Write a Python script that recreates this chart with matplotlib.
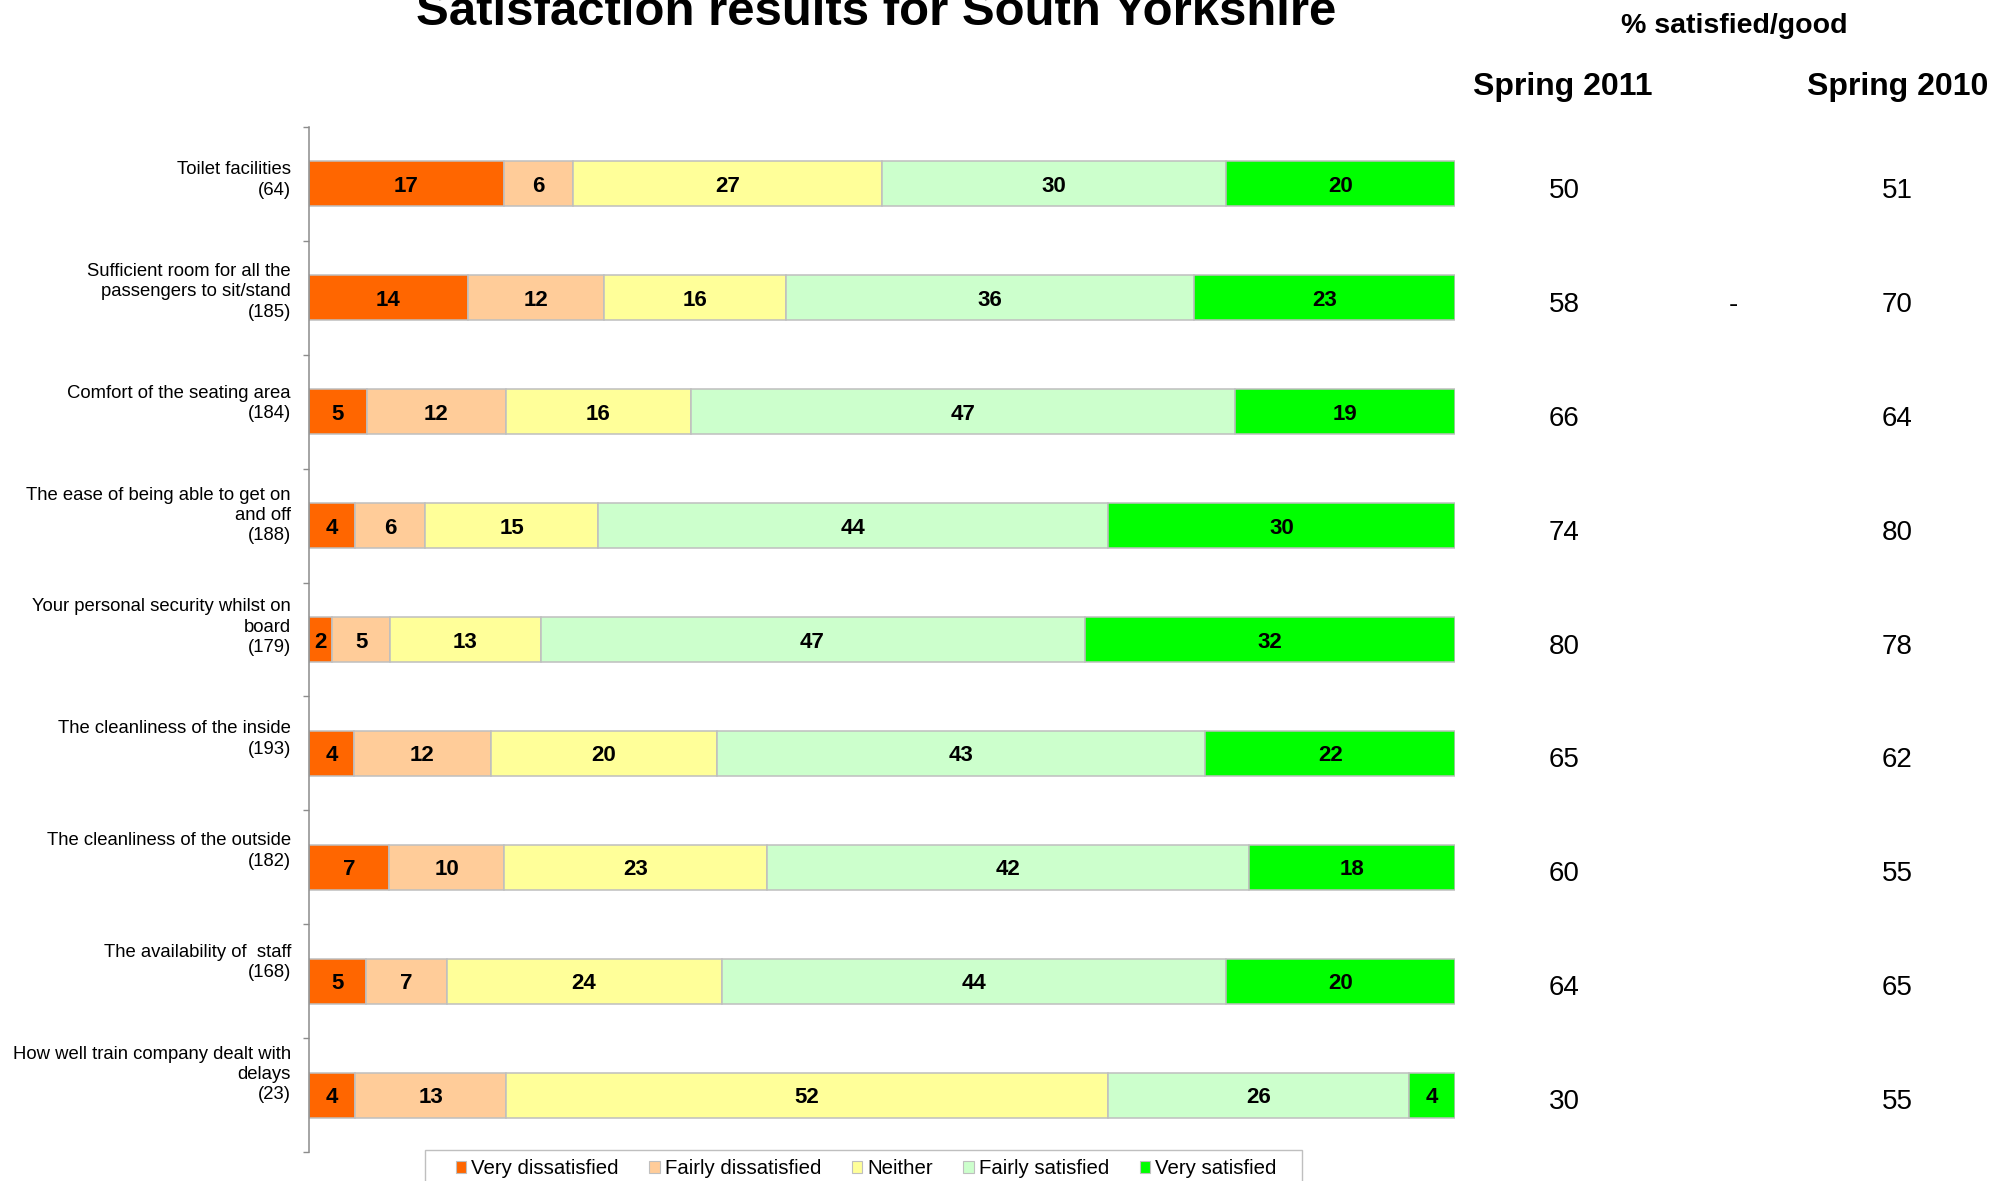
import numpy as np
import matplotlib
matplotlib.use("Agg")
import matplotlib.pyplot as plt
from matplotlib.patches import Patch, Rectangle
from matplotlib.transforms import ScaledTranslation, blended_transform_factory

plt.rcParams["font.family"] = ["Liberation Sans", "DejaVu Sans"]

# ---------------- data ----------------
categories = [
    "Toilet facilities\n(64)",
    "Sufficient room for all the\npassengers to sit/stand\n(185)",
    "Comfort of the seating area\n(184)",
    "The ease of being able to get on\nand off\n(188)",
    "Your personal security whilst on\nboard\n(179)",
    "The cleanliness of the inside\n(193)",
    "The cleanliness of the outside\n(182)",
    "The availability of  staff\n(168)",
    "How well train company dealt with\ndelays\n(23)",
]
series_names = ["Very dissatisfied", "Fairly dissatisfied", "Neither",
                "Fairly satisfied", "Very satisfied"]
very_dissatisfied = [17, 14, 5, 4, 2, 4, 7, 5, 4]
fairly_dissatisfied = [6, 12, 12, 6, 5, 12, 10, 7, 13]
neither = [27, 16, 16, 15, 13, 20, 23, 24, 52]
fairly_satisfied = [30, 36, 47, 44, 47, 43, 42, 44, 26]
very_satisfied = [20, 23, 19, 30, 32, 22, 18, 20, 4]
spring_2011 = [50, 58, 66, 74, 80, 65, 60, 64, 30]
spring_2010 = [51, 70, 64, 80, 78, 62, 55, 65, 55]
change_marker = ["", "-", "", "", "", "", "", "", ""]

colors = ["#FF6600", "#FFCC99", "#FFFF99", "#CCFFCC", "#00FF00"]

# ---------------- figure ----------------
W, H = 2010, 1181
fig = plt.figure(figsize=(W / 100, H / 100), dpi=100)
ax = fig.add_axes([309 / W, 1 - 1152 / H, (1455 - 309) / W, (1152 - 127) / H])

data = np.array([very_dissatisfied, fairly_dissatisfied, neither,
                 fairly_satisfied, very_satisfied], dtype=float)
shares = data / data.sum(axis=0) * 100.0
y = np.arange(len(categories))
left = np.zeros(len(categories))
for i, name in enumerate(series_names):
    bars = ax.barh(y, shares[i], left=left, height=0.395, color=colors[i],
                   edgecolor="#BFBFBF", linewidth=1.1, label=name)
    anns = ax.bar_label(bars, labels=[str(int(v)) for v in data[i]],
                        label_type="center", fontsize=16, fontweight="bold")
    for a in anns:
        a.set_va("center_baseline")
    left += shares[i]

ax.set_xlim(0, 100)
ax.set_ylim(len(categories) - 0.5, -0.5)
ax.set_xticks([])
for s in ["top", "right", "bottom"]:
    ax.spines[s].set_visible(False)
ax.spines["left"].set_color("#8C8C8C")
ax.spines["left"].set_linewidth(1.1)

ax.set_yticks(np.arange(-0.5, len(categories), 1.0))
ax.set_yticklabels([])
ax.tick_params(axis="y", which="major", length=4.3, width=1.0, color="#8C8C8C")
ax.set_yticks(y, minor=True)
ax.set_yticklabels(categories, minor=True, fontsize=13.3, linespacing=1.26)
ax.tick_params(axis="y", which="minor", length=0, pad=13)
for i, lab in enumerate(ax.get_yticklabels(minor=True)):
    lab.set_transform(lab.get_transform() +
                      ScaledTranslation(0, (7.5 + 2.1 * i) / 100, fig.dpi_scale_trans))

# right-hand columns
tr = blended_transform_factory(fig.transFigure, ax.transData)
off = ScaledTranslation(0, -7 / 100, fig.dpi_scale_trans)
for i in range(len(categories)):
    ax.text(1564 / W, y[i], str(spring_2011[i]), transform=tr + off,
            ha="center", va="center", fontsize=20)
    ax.text(1897 / W, y[i], str(spring_2010[i]), transform=tr + off,
            ha="center", va="center", fontsize=20)
    if change_marker[i]:
        ax.text(1733 / W, y[i], change_marker[i], transform=tr + off,
                ha="center", va="center", fontsize=20)

fig.text(876 / W, 1 - 25 / H, "Satisfaction results for South Yorkshire",
         ha="center", va="baseline", fontsize=35.4, fontweight="bold")
fig.text(1734 / W, 1 - 33 / H, "% satisfied/good", ha="center", va="baseline",
         fontsize=20.5, fontweight="bold")
fig.text(1563 / W, 1 - 95 / H, "Spring 2011", ha="center", va="baseline",
         fontsize=23, fontweight="bold")
fig.text(1898 / W, 1 - 95 / H, "Spring 2010", ha="center", va="baseline",
         fontsize=23, fontweight="bold")

# legend
handles = [Patch(facecolor=c, edgecolor="#BFBFBF", linewidth=0.8) for c in colors]
fig.legend(handles, series_names, loc="center left",
           bbox_to_anchor=(456 / W, 1 - 1169 / H), ncol=5, frameon=False,
           fontsize=14.7, handlelength=0.5, handleheight=0.5,
           handletextpad=0.25, columnspacing=1.5, borderpad=0, borderaxespad=0)
fig.patches.append(Rectangle((425 / W, -0.05), (1302 - 425) / W, 0.05 + (1181 - 1150) / H,
                             transform=fig.transFigure, facecolor="none",
                             edgecolor="#BFBFBF", linewidth=1.0))

fig.savefig("out.png", dpi=100)
